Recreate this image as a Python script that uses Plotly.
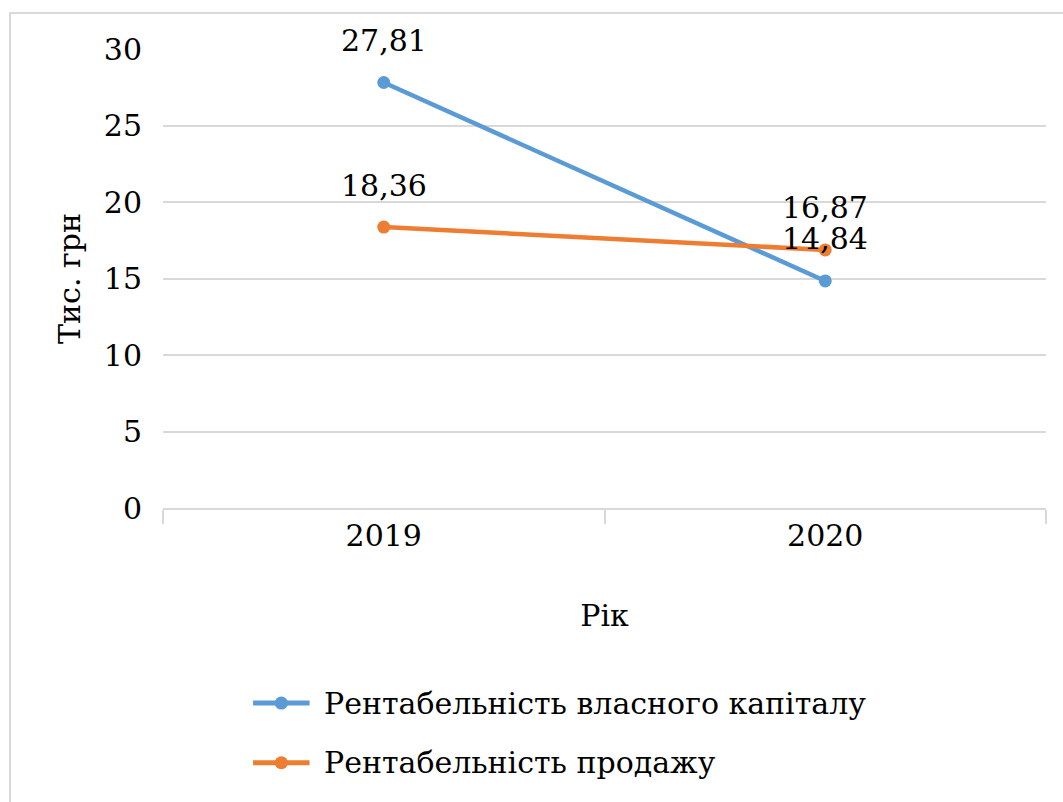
import plotly.graph_objects as go

# Categories and series values
years = ["2019", "2020"]
roe = [27.81, 14.84]          # Рентабельність власного капіталу
ros = [18.36, 16.87]          # Рентабельність продажу
series_names = ["Рентабельність власного капіталу", "Рентабельність продажу"]
y_ticks = [0, 5, 10, 15, 20, 25, 30]

colors = ["#5B9BD5", "#ED7D31"]
FONT = "DejaVu Serif"
FS = 30

def fmt(v):
    return f"{v:.2f}".replace(".", ",")

fig = go.Figure()
for name, vals, col in zip(series_names, [roe, ros], colors):
    fig.add_trace(go.Scatter(
        x=years, y=vals, name=name, mode="lines+markers",
        line=dict(color=col, width=4.5),
        marker=dict(color=col, size=13),
        cliponaxis=False, showlegend=False,
    ))
    # value labels above each point (category axes take the category index)
    for idx, yv in enumerate(vals):
        fig.add_annotation(x=idx, y=yv, text=fmt(yv), showarrow=False,
                           yshift=42, xanchor="center", yanchor="middle",
                           font=dict(family=FONT, size=FS, color="black"))

# Legend drawn below the chart: a line with a dot, then the series name
legend_y = [-0.425, -0.555]
for name, col, ly in zip(series_names, colors, legend_y):
    fig.add_shape(type="line", xref="paper", yref="paper",
                  x0=0.102, x1=0.166, y0=ly, y1=ly,
                  line=dict(color=col, width=5))
    fig.add_shape(type="circle", xref="paper", yref="paper",
                  x0=0.134 - 0.0075, x1=0.134 + 0.0075,
                  y0=ly - 0.0142, y1=ly + 0.0142,
                  fillcolor=col, line=dict(color=col, width=0))
    fig.add_annotation(xref="paper", yref="paper", x=0.180, y=ly,
                       text=name, showarrow=False, xanchor="left", yanchor="middle",
                       font=dict(family=FONT, size=FS, color="black"))

# Outer chart border
fig.add_shape(type="rect", xref="paper", yref="paper",
              x0=-0.1733, x1=1.1, y0=-0.7, y1=1.0784,
              line=dict(color="#d9d9d9", width=2), layer="below")

fig.update_layout(
    width=1063, height=802,
    margin=dict(l=163, r=17, t=49, b=294),
    plot_bgcolor="white", paper_bgcolor="white",
    font=dict(family=FONT, size=FS, color="black"),
    xaxis=dict(
        type="category", range=[-0.5, 1.5], tickson="boundaries",
        ticks="outside", ticklen=14, tickcolor="#d9d9d9", tickwidth=2,
        showline=True, linecolor="#d9d9d9", linewidth=2,
        showgrid=False,
        title=dict(text="Рік", font=dict(family=FONT, size=FS), standoff=53),
        tickfont=dict(family=FONT, size=FS),
    ),
    yaxis=dict(
        range=[0, 30], tickvals=y_ticks, showgrid=True, gridcolor="#d9d9d9", gridwidth=2,
        zeroline=False, showline=False, ticks="", ticklabelstandoff=20,
        title=dict(text="Тис. грн", font=dict(family=FONT, size=FS), standoff=14),
        tickfont=dict(family=FONT, size=FS),
    ),
)

fig.write_html("out.html")
